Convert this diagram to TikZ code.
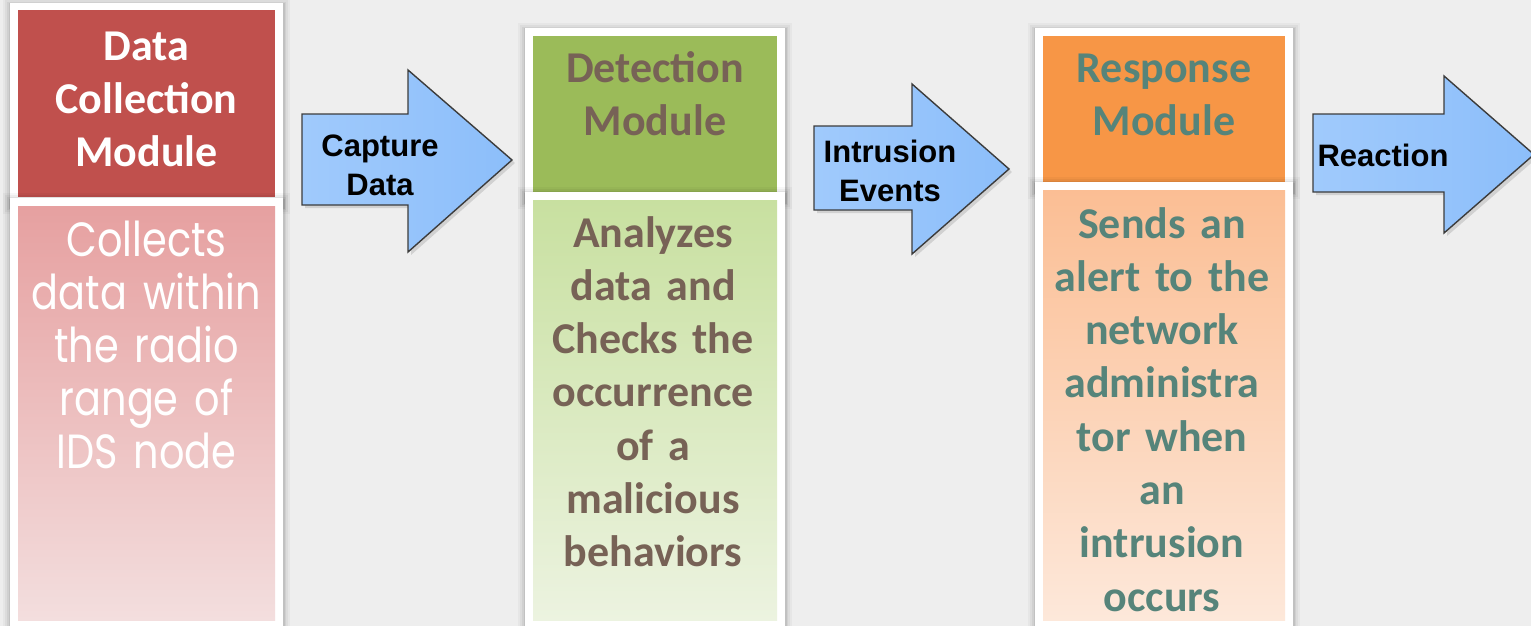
\documentclass[tikz,border=0pt]{standalone}
\usepackage{fontspec}
\setmainfont[WordSpace=0.7]{Carlito}
\newfontfamily\geofont[FakeStretch=0.83]{Poppins}
\newfontfamily\arrowfont{Liberation Sans}

\definecolor{bgcol}{RGB}{238,238,238}
\definecolor{redhead}{RGB}{192,80,77}
\definecolor{redtop}{RGB}{230,160,160}
\definecolor{redbot}{RGB}{243,222,222}
\definecolor{greenhead}{RGB}{155,187,89}
\definecolor{greentop}{RGB}{200,224,160}
\definecolor{greenbot}{RGB}{236,243,224}
\definecolor{orangehead}{RGB}{247,150,70}
\definecolor{orangetop}{RGB}{251,190,148}
\definecolor{orangebot}{RGB}{253,232,218}
\definecolor{browntext}{RGB}{119,98,86}
\definecolor{tealtext}{RGB}{86,132,122}
\definecolor{arrowfill}{RGB}{140,190,250}
\definecolor{arrowlight}{RGB}{160,202,252}
\definecolor{arrowline}{RGB}{60,60,60}

% soft shadow behind a framed panel: x1 y1 x2 y2 (pixel units, y downwards)
\newcommand{\panelshadow}[4]{%
  \foreach \d/\o in {7/0.03,5/0.04,3/0.05,1.5/0.07}{%
    \fill[black,opacity=\o] (#1-\d,#2-\d+2) rectangle (#3+\d,#4+\d+2);}%
}

\tikzset{
  frame/.style={fill=white},
  headtext/.style={font=\bfseries\fontsize{44}{53}\selectfont,
    align=center, anchor=base, inner sep=0pt},
  bodytext/.style={font=\bfseries\fontsize{44}{53.3}\selectfont,
    align=center, anchor=base, inner sep=0pt},
  geotext/.style={font=\geofont\fontsize{48}{53}\selectfont, align=center,
    anchor=base, inner sep=0pt, text=white},
  blockarrow/.style={draw=arrowline, line width=1.4pt, line join=miter,
    left color=arrowlight, right color=arrowfill},
  arrowtext/.style={font=\arrowfont\bfseries\fontsize{31}{39}\selectfont,
    align=center, anchor=base, inner sep=0pt, text=black, text width=160pt},
}

\begin{document}
\begin{tikzpicture}[x=1pt,y=-1pt]
  \useasboundingbox (0,0) rectangle (1531,626);
  \fill[bgcol] (0,0) rectangle (1531,626);

  % ---------- Data collection module ----------
  \panelshadow{10}{3}{283}{205}
  \fill[frame] (10,3) rectangle (283,205);
  \fill[redhead] (18,10) rectangle (275,197);
  \panelshadow{10}{198}{283}{630}
  \fill[frame] (10,198) rectangle (283,630);
  \shade[top color=redtop, bottom color=redbot] (18,206) rectangle (275,620);
  \node[headtext, text=white, text width=257pt] (dchead) at (146.5,60)
    {Data\\Collection\\Module};
  \node[geotext, text width=257pt] (dcbody) at (146.5,256)
    {Collects\\data within\\the radio\\range of\\IDS node};

  % ---------- Detection module ----------
  \panelshadow{525}{28}{785}{200}
  \fill[frame] (525,28) rectangle (785,200);
  \fill[greenhead] (533,36) rectangle (777,192);
  \panelshadow{525}{192}{785}{630}
  \fill[frame] (525,192) rectangle (785,630);
  \shade[top color=greentop, bottom color=greenbot] (533,200) rectangle (777,620);
  \node[headtext, text=browntext, text width=244pt] (dethead) at (655,82)
    {Detection\\Module};
  \node[bodytext, text=browntext, text width=244pt] (detbody) at (653,247)
    {Analyzes\\data and\\Checks the\\occurrence\\of a\\malicious\\behaviors};

  % ---------- Response module ----------
  \panelshadow{1035}{28}{1293}{190}
  \fill[frame] (1035,28) rectangle (1293,190);
  \fill[orangehead] (1043,36) rectangle (1285,182);
  \panelshadow{1035}{182}{1293}{630}
  \fill[frame] (1035,182) rectangle (1293,630);
  \shade[top color=orangetop, bottom color=orangebot] (1043,190) rectangle (1285,620);
  \node[headtext, text=tealtext, text width=242pt] (resphead) at (1164,82)
    {Response\\Module};
  \node[bodytext, text=tealtext, text width=242pt] (respbody) at (1162,238)
    {Sends an\\alert to the\\network\\administra\\tor when\\an\\intrusion\\occurs};

  % ---------- block arrows ----------
  \fill[black,opacity=0.12] (305,117) -- (411,117) -- (411,73) -- (515,163)
    -- (411,255) -- (411,208) -- (305,208) -- cycle;
  \path[blockarrow] (302,114) -- (408,114) -- (408,70) -- (512,160)
    -- (408,252) -- (408,205) -- (302,205) -- cycle;
  \node[arrowtext] (capture) at (380,156) {Capture\\Data};

  \fill[black,opacity=0.12] (817,129) -- (915,129) -- (915,87) -- (1012,172)
    -- (915,257) -- (915,213) -- (817,213) -- cycle;
  \path[blockarrow] (814,126) -- (912,126) -- (912,84) -- (1009,169)
    -- (912,254) -- (912,210) -- (814,210) -- cycle;
  \node[arrowtext] (intrusion) at (890,162) {Intrusion\\Events};

  \fill[black,opacity=0.12] (1316,117) -- (1447,117) -- (1447,79) -- (1537,158)
    -- (1447,236) -- (1447,195) -- (1316,195) -- cycle;
  \path[blockarrow] (1313,114) -- (1444,114) -- (1444,76) -- (1534,154.5)
    -- (1444,233) -- (1444,192) -- (1313,192) -- cycle;
  \node[arrowtext] (reaction) at (1383,166) {Reaction};
\end{tikzpicture}
\end{document}
